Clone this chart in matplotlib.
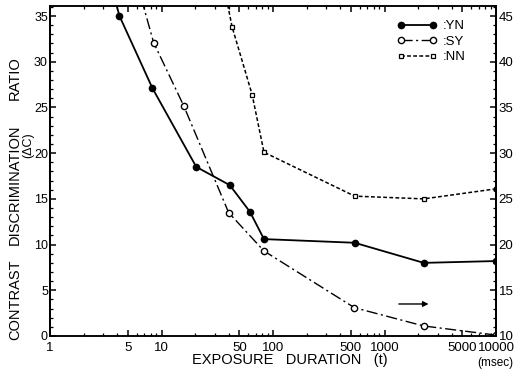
import numpy as np
import matplotlib
matplotlib.use("Agg")
import matplotlib.pyplot as plt
from matplotlib.ticker import FixedLocator, NullFormatter, MultipleLocator

plt.rcParams['font.family'] = ['Liberation Sans', 'DejaVu Sans']

# exposure duration (msec) and contrast discrimination ratio
# first point of each line lies above the plot top (line runs off the chart)
yn_t = [3.6, 4.2, 8.3, 20.5, 41, 62, 83, 540, 2250, 10000]
yn_c = [38.0, 35.0, 27.1, 18.5, 16.5, 13.6, 10.6, 10.2, 8.0, 8.2]

sy_t = [5.6, 8.5, 15.8, 40, 83, 537, 2240, 10000]
sy_c = [40.0, 32.1, 25.2, 13.5, 9.3, 3.1, 1.1, 0.1]

# NN uses the right hand axis
nn_t = [34, 43, 65, 83, 540, 2250, 10000]
nn_c = [50.0, 43.8, 36.4, 30.1, 25.3, 25.0, 26.1]

xticks = [1, 5, 10, 50, 100, 500, 1000, 5000, 10000]
xticklabels = ['1', '5', '10', '50', '100', '500', '1000', '5000', '10000']

W, H = 517, 372
fig = plt.figure(figsize=(W / 100, H / 100), dpi=100)
ax = fig.add_axes([50 / W, 36 / H, (496 - 50) / W, (336 - 6) / H])
ax2 = ax.twinx()

ax.plot(yn_t, yn_c, color='black', lw=1.3, marker='o', ms=4.5,
        mfc='black', mec='black', markevery=slice(1, None), label=':YN')
ax.plot(sy_t, sy_c, color='black', lw=1.0, ls=(0, (8, 2.5, 1.5, 2.5)),
        marker='o', ms=4.5, mfc='white', mec='black', mew=1.0,
        markevery=slice(1, None), label=':SY')
ax2.plot(nn_t, nn_c, color='black', lw=1.1, ls=(0, (2.5, 1.5)),
         marker='s', ms=3, mfc='white', mec='black', mew=0.9,
         markevery=slice(1, None), label=':NN')

ax.set_xscale('log')
ax.set_xlim(1, 10000)
ax.set_ylim(0, 36.1)
ax2.set_ylim(10, 46.1)

minor = [m * 10 ** d for d in range(4) for m in (2, 3, 4, 6, 7, 8, 9)]
ax.xaxis.set_major_locator(FixedLocator(xticks))
ax.xaxis.set_minor_locator(FixedLocator(minor))
ax.set_xticklabels(xticklabels)
ax.xaxis.set_minor_formatter(NullFormatter())

ax.yaxis.set_major_locator(MultipleLocator(5))
ax.yaxis.set_minor_locator(MultipleLocator(1))
ax2.yaxis.set_major_locator(MultipleLocator(5))
ax2.yaxis.set_minor_locator(MultipleLocator(1))

ax.tick_params(axis='both', which='major', direction='in', length=4.5,
               width=1.1, labelsize=9, top=True, pad=1.5)
ax.tick_params(axis='x', which='major', pad=4.5, labelsize=9.5)
ax.tick_params(axis='both', which='minor', direction='in', length=2.5,
               width=0.9, top=True)
ax.tick_params(axis='y', right=False)
ax2.tick_params(axis='y', which='major', direction='in', length=4.5,
                width=1.1, labelsize=9.5, pad=2)
ax2.tick_params(axis='y', which='minor', direction='in', length=2.5, width=0.9)

for a in (ax, ax2):
    for s in ('left', 'right'):
        a.spines[s].set_linewidth(1.4)
    for s in ('top', 'bottom'):
        a.spines[s].set_linewidth(1.1)

h1, l1 = ax.get_legend_handles_labels()
h2, l2 = ax2.get_legend_handles_labels()
ax2.legend(h1 + h2, l1 + l2, loc='upper left', frameon=False, numpoints=2,
           bbox_to_anchor=(397 / W, (H - 20) / H), bbox_transform=fig.transFigure,
           borderpad=0, borderaxespad=0, handlelength=3.0, handletextpad=0.5,
           labelspacing=0.25, fontsize=9.5)

# arrow pointing to the right hand axis
ax.annotate('', xy=(0.855, 0.097), xytext=(0.776, 0.097),
            xycoords='axes fraction',
            arrowprops=dict(arrowstyle='-|>', color='black', lw=1.0,
                            mutation_scale=8))

# axis titles
fig.text(290 / W, 1 - 360 / H, 'EXPOSURE   DURATION   (t)', ha='center',
         va='center', fontsize=10.5)
fig.text(495 / W, 1 - 363 / H, '(msec)', ha='center', va='center', fontsize=8.5)
fig.text(15 / W, 1 - 300 / H, 'CONTRAST', rotation=90, ha='center',
         va='center', fontsize=10.5)
fig.text(15 / W, 1 - 185 / H, 'DISCRIMINATION', rotation=90, ha='center',
         va='center', fontsize=10.5)
fig.text(15 / W, 1 - 78 / H, 'RATIO', rotation=90, ha='center',
         va='center', fontsize=10.5)
fig.text(28 / W, 1 - 145 / H, '(\u0394C)', rotation=90, ha='center',
         va='center', fontsize=9)

fig.savefig('out.png', dpi=100)
